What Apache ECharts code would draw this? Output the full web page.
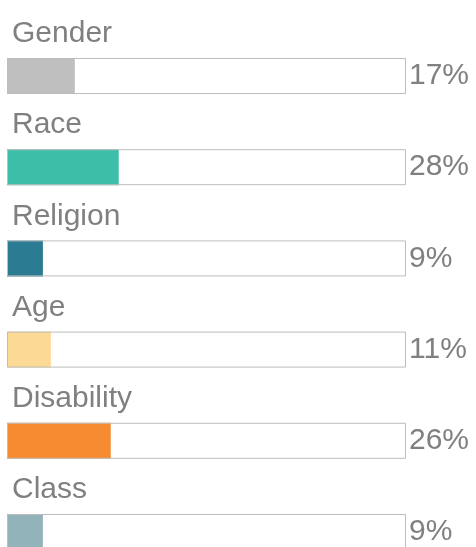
<!DOCTYPE html>
<html><head><meta charset="utf-8">
<script src="https://cdn.jsdelivr.net/npm/echarts@6/dist/echarts.min.js"></script>
<style>html,body{margin:0;padding:0;background:#fff}#c{width:476px;height:547px}</style>
</head><body><div id="c"></div>
<script>
const categories = ['Gender', 'Race', 'Religion', 'Age', 'Disability', 'Class'];
const values = [17, 28, 9, 11, 26, 9];
const colors = ['#bfbfbf', '#3dbea9', '#2b7b93', '#fdd996', '#f68b31', '#93b3ba'];
const maxValue = 100;

const chart = echarts.init(document.getElementById('c'), null, {renderer: 'canvas'});
const font = 'Liberation Sans, Arial, sans-serif';
chart.setOption({
  animation: false,
  grid: {left: 7, right: 70, top: 76, height: 462, containLabel: false},
  xAxis: {type: 'value', min: 0, max: maxValue, show: false},
  yAxis: [
    {type: 'category', data: categories, inverse: true, boundaryGap: false, show: false},
    {type: 'category', data: values.map(v => v + '%'), inverse: true, boundaryGap: false, position: 'right',
     axisLine: {show: false}, axisTick: {show: false}, splitLine: {show: false},
     axisLabel: {margin: 3, fontSize: 30, color: '#808080', fontFamily: font}}
  ],
  series: [
    {type: 'bar', barWidth: 36, yAxisIndex: 0,
     data: values.map((v, i) => ({value: v, itemStyle: {color: colors[i]}}))},
    {type: 'bar', barWidth: 36, barGap: '-100%', yAxisIndex: 0,
     data: categories.map(() => maxValue),
     itemStyle: {color: 'rgba(0,0,0,0)', borderColor: '#bdbdbd', borderWidth: 1},
     label: {show: true, position: [5, -39], align: 'left', verticalAlign: 'top',
       formatter: p => categories[p.dataIndex], fontSize: 30, lineHeight: 30,
       color: '#808080', fontFamily: font}}
  ]
});
</script></body></html>
